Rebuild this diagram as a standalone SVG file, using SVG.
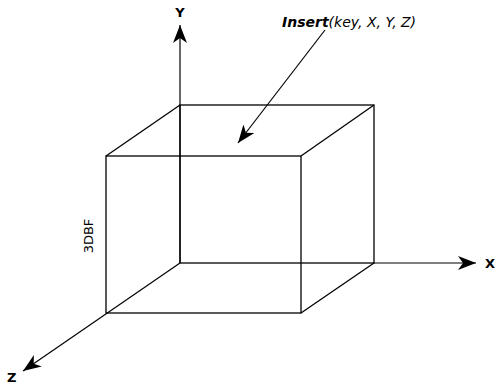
<svg xmlns="http://www.w3.org/2000/svg" width="497" height="385" viewBox="0 0 497 385">
<style>
.e{stroke:#000;stroke-width:1.3;fill:none}
.ax{stroke:#000;stroke-width:1.2;fill:none}
.t{font-family:"DejaVu Sans",sans-serif;fill:#000}
.lb{font-size:13px;font-weight:bold}
</style>
<defs>
<marker id="ah" markerWidth="20" markerHeight="14" refX="18" refY="7" orient="auto" markerUnits="userSpaceOnUse">
<path d="M0,0 L18,7 L0,14 L5,7 Z" fill="#000"/>
</marker>
</defs>
<rect width="497" height="385" fill="#fff"/>
<g id="box">
<rect x="180" y="105" width="194" height="158" class="e"/>
<rect x="106" y="156" width="195" height="157" class="e"/>
<line x1="374" y1="105" x2="301" y2="156" class="e"/>
<line x1="374" y1="263" x2="301" y2="313" class="e"/>
<line x1="180" y1="105" x2="106" y2="156" class="e"/>
</g>
<g id="connectors">
<line x1="180" y1="263" x2="180" y2="25" class="ax" marker-end="url(#ah)"/>
<line x1="374" y1="263" x2="476" y2="263" class="ax" marker-end="url(#ah)"/>
<line x1="180" y1="263" x2="23" y2="371" class="ax" marker-end="url(#ah)"/>
<line x1="325" y1="30" x2="238" y2="143" class="ax" marker-end="url(#ah)"/>
</g>
<g id="labels">
<text x="180" y="17" class="t lb" text-anchor="middle">Y</text>
<text x="485" y="268" class="t lb">X</text>
<text x="7" y="382" class="t lb">Z</text>
<text x="282" y="27" class="t" font-size="14" font-style="italic"><tspan font-weight="bold">Insert</tspan>(key, X, Y, Z)</text>
<text transform="translate(93,236) rotate(-90)" class="t" font-size="13" text-anchor="middle">3DBF</text>
</g>
</svg>
